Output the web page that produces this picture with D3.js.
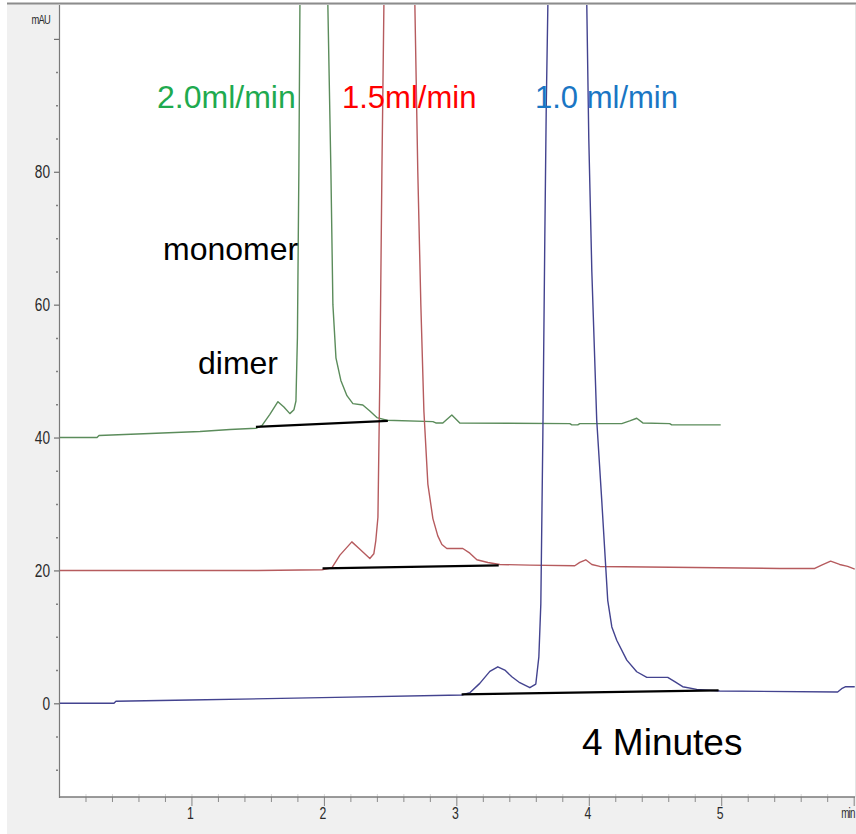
<!DOCTYPE html>
<html>
<head>
<meta charset="utf-8">
<script src="https://cdn.jsdelivr.net/npm/d3@7"></script>
<style>
  html, body { margin: 0; padding: 0; background: #ffffff; }
  svg { display: block; }
</style>
</head>
<body>
<svg id="chart" width="856" height="834"></svg>
<script>
// ---------------- DATA ----------------
// Time axis (min) and absorbance (mAU); peaks of the monomer run off the top of the scale.
const flow20Time = [0, 0.287, 0.302, 0.687, 1.064, 1.291, 1.487, 1.532, 1.592, 1.653, 1.698, 1.743, 1.774, 1.789, 1.800, 1.811, 1.819, 1.857, 1.925, 1.992, 2.030, 2.053, 2.068, 2.091, 2.128, 2.174, 2.219, 2.294, 2.347, 2.400, 2.475, 2.823, 2.845, 2.898, 2.966, 3.026, 3.857, 3.872, 3.917, 3.932, 4.249, 4.309, 4.362, 4.408, 4.611, 4.626, 4.996];
const flow20MAU  = [40.0, 40.0, 40.3, 40.6, 40.9, 41.2, 41.4, 41.8, 43.5, 45.4, 44.6, 43.6, 44.2, 45.5, 55, 80, 105, 150, 175, 150, 105, 80, 60, 52, 48.6, 46.3, 45.1, 44.9, 44.0, 43.0, 42.6, 42.4, 42.2, 42.2, 43.4, 42.2, 42.1, 41.9, 41.9, 42.1, 42.1, 42.5, 42.9, 42.2, 42.1, 41.9, 41.9];

const flow15Time = [0, 1.50, 1.985, 2.060, 2.121, 2.211, 2.272, 2.347, 2.377, 2.392, 2.408, 2.423, 2.438, 2.453, 2.498, 2.574, 2.642, 2.687, 2.709, 2.732, 2.755, 2.785, 2.823, 2.860, 2.891, 2.928, 3.049, 3.102, 3.155, 3.238, 3.328, 3.555, 3.894, 3.932, 3.977, 4.023, 4.083, 5.442, 5.706, 5.758, 5.826, 5.894, 5.955, 6.008];
const flow15MAU  = [20.0, 20.0, 20.1, 20.4, 22.3, 24.3, 23.2, 21.8, 22.5, 24.5, 28, 50, 80, 105, 150, 175, 150, 105, 80, 60, 44, 33, 27.8, 25.2, 23.9, 23.3, 23.3, 22.6, 21.6, 21.2, 20.9, 20.8, 20.7, 21.2, 21.6, 20.9, 20.6, 20.3, 20.3, 20.8, 21.4, 20.9, 20.6, 20.2];

const flow10Time = [0, 0.415, 0.430, 0.989, 1.985, 3.042, 3.102, 3.177, 3.253, 3.313, 3.366, 3.419, 3.479, 3.555, 3.600, 3.623, 3.638, 3.653, 3.668, 3.679, 3.691, 3.751, 3.834, 3.925, 3.985, 4.000, 4.023, 4.060, 4.098, 4.143, 4.174, 4.211, 4.287, 4.362, 4.438, 4.596, 4.649, 4.709, 4.815, 4.989, 5.879, 5.909, 5.940, 6.008];
const flow10MAU  = [0, 0, 0.3, 0.5, 0.85, 1.25, 1.6, 3.0, 4.8, 5.5, 5.0, 4.0, 3.1, 2.35, 2.9, 7, 15, 40, 70, 90, 105, 150, 180, 150, 105, 85, 65, 42.6, 30.5, 15.5, 11.5, 9.5, 6.5, 4.75, 3.9, 3.9, 3.25, 2.5, 2.1, 1.85, 1.7, 2.2, 2.5, 2.5];

// Hand-drawn integration baselines: [startTime, startMAU, endTime, endMAU]
const baseline20 = [1.487, 41.6, 2.483, 42.5];
const baseline15 = [1.99, 20.3, 3.32, 20.75];
const baseline10 = [3.04, 1.35, 4.98, 1.95];

const yMajorTicks = [0, 20, 40, 60, 80, 100];
const yTickLabels = ["0", "20", "40", "60", "80", "mAU"];
const xMajorTicks = [1, 2, 3, 4, 5];
const xTickLabels = ["1", "2", "3", "4", "5"];

const flowLabels = ["2.0ml/min", "1.5ml/min", "1.0 ml/min"];
const peakLabels = ["monomer", "dimer"];
const durationLabel = "4 Minutes";

// ---------------- LAYOUT ----------------
const svg = d3.select("#chart");
const W = 856, H = 834;
const plot = { left: 59, right: 855, top: 5, bottom: 797 };

const x = d3.scaleLinear().domain([0, 6.01]).range([plot.left, plot.right]);
const y = d3.scaleLinear().domain([-14.1, 105.1]).range([plot.bottom, plot.top]);

// background panel
svg.append("rect").attr("x", 0).attr("y", 0).attr("width", W).attr("height", H).attr("fill", "#ffffff");
svg.append("rect").attr("x", 7).attr("y", 4).attr("width", W - 7).attr("height", H - 4).attr("fill", "#f0f0f0");
svg.append("rect").attr("x", plot.left).attr("y", plot.top)
   .attr("width", plot.right - plot.left).attr("height", plot.bottom - plot.top).attr("fill", "#ffffff");
svg.append("line").attr("x1", 7).attr("x2", W).attr("y1", 3.5).attr("y2", 3.5)
   .attr("stroke", "#8c8c8c").attr("stroke-width", 2);
svg.append("line").attr("x1", 855.5).attr("x2", 855.5).attr("y1", 5).attr("y2", 797)
   .attr("stroke", "#e4e4e4").attr("stroke-width", 1);

const tickFont = "'Liberation Sans Narrow', 'Arial Narrow', 'Liberation Sans', sans-serif";

// ---------------- Y AXIS ----------------
const yMinor = d3.range(-10, 101, 5).filter(v => v % 20 !== 0);
const yAxisMajor = d3.axisLeft(y).tickValues(yMajorTicks).tickSize(5).tickFormat("");
const gy = svg.append("g").attr("transform", `translate(${plot.left},0)`).call(yAxisMajor);
gy.select(".domain").remove();
gy.selectAll(".tick line").attr("stroke", "#707070").attr("stroke-width", 1.2);
const yAxisMinor = d3.axisLeft(y).tickValues(yMinor).tickSize(2).tickFormat("");
const gy2 = svg.append("g").attr("transform", `translate(${plot.left - 1},0)`).call(yAxisMinor);
gy2.select(".domain").remove();
gy2.selectAll(".tick line").attr("stroke", "#808080").attr("stroke-width", 1.5);

svg.append("g").selectAll("text").data(yMajorTicks).join("text")
  .attr("transform", (d, i) => `translate(50,${i === 5 ? 24 : y(d) + 6.5}) scale(0.72,1)`)
  .attr("text-anchor", "end")
  .attr("font-family", tickFont)
  .attr("font-size", (d, i) => i === 5 ? 13 : 19)
  .attr("fill", "#2a2a2a")
  .attr("letter-spacing", (d, i) => i === 5 ? -1 : 0)
  .text((d, i) => yTickLabels[i]);

svg.append("line").attr("x1", plot.left + 0.5).attr("x2", plot.left + 0.5)
   .attr("y1", plot.top).attr("y2", plot.bottom + 1)
   .attr("stroke", "#7a7a7a").attr("stroke-width", 1.2);

// ---------------- X AXIS ----------------
const xMinor = d3.range(0.2, 6.01, 0.2).map(v => +v.toFixed(1)).filter(v => Math.abs(v - Math.round(v)) > 0.01);
const xAxisMajor = d3.axisBottom(x).tickValues(xMajorTicks.concat([6])).tickSize(9).tickFormat("");
const gx = svg.append("g").attr("transform", `translate(0,${plot.bottom})`).call(xAxisMajor);
gx.select(".domain").remove();
gx.selectAll(".tick line").attr("stroke", "#808080").attr("stroke-width", 1);
const xAxisMinor = d3.axisBottom(x).tickValues(xMinor).tickSize(5).tickFormat("");
const gx2 = svg.append("g").attr("transform", `translate(0,${plot.bottom})`).call(xAxisMinor);
gx2.select(".domain").remove();
gx2.selectAll(".tick line").attr("stroke", "#8a8a8a").attr("stroke-width", 1);
// faint inner ticks
const gx3 = svg.append("g").attr("transform", `translate(0,${plot.bottom})`)
  .call(d3.axisTop(x).tickValues(xMinor.concat(xMajorTicks)).tickSize(3).tickFormat(""));
gx3.select(".domain").remove();
gx3.selectAll(".tick line").attr("stroke", "#d8d8d8").attr("stroke-width", 1);

svg.append("line").attr("x1", plot.left).attr("x2", plot.right)
   .attr("y1", plot.bottom).attr("y2", plot.bottom)
   .attr("stroke", "#7a7a7a").attr("stroke-width", 1.6);

svg.append("g").selectAll("text").data(xMajorTicks).join("text")
  .attr("transform", d => `translate(${x(d) - 1},819) scale(0.72,1)`)
  .attr("text-anchor", "middle")
  .attr("font-family", tickFont)
  .attr("font-size", 17)
  .attr("fill", "#2a2a2a")
  .text((d, i) => xTickLabels[i]);
svg.append("text")
  .attr("transform", `translate(848,818) scale(0.7,1)`)
  .attr("text-anchor", "middle")
  .attr("font-family", tickFont).attr("font-size", 14).attr("fill", "#2a2a2a")
  .attr("letter-spacing", -1)
  .text("min");

// ---------------- TRACES ----------------
svg.append("clipPath").attr("id", "plotClip").append("rect")
  .attr("x", plot.left + 1).attr("y", plot.top).attr("width", plot.right - plot.left - 1).attr("height", plot.bottom - plot.top - 1);

const line = d3.line().x(d => x(d[0])).y(d => y(d[1]));
const series = [
  { t: flow20Time, v: flow20MAU, color: "#5b8c5b" },
  { t: flow15Time, v: flow15MAU, color: "#b65b5e" },
  { t: flow10Time, v: flow10MAU, color: "#43438f" }
];
const gTraces = svg.append("g").attr("clip-path", "url(#plotClip)");
series.forEach(s => {
  const pts = s.t.map((t, i) => [t, s.v[i]]);
  gTraces.append("path").datum(pts)
    .attr("d", line)
    .attr("fill", "none")
    .attr("stroke", s.color)
    .attr("stroke-width", 1.4)
    .attr("stroke-linejoin", "round");
});

// integration baselines
[baseline20, baseline15, baseline10].forEach(b => {
  svg.append("line")
    .attr("x1", x(b[0])).attr("y1", y(b[1]))
    .attr("x2", x(b[2])).attr("y2", y(b[3]))
    .attr("stroke", "#000000").attr("stroke-width", 2.2);
});

// ---------------- ANNOTATIONS ----------------
const annFont = "'Liberation Sans', Arial, sans-serif";
const flowPos = [[157, 108], [342, 108], [535, 108]];
const flowColors = ["#1faa4f", "#ff0000", "#1a76c4"];
const flowSizes = [32, 31, 31];
svg.append("g").selectAll("text").data(flowLabels).join("text")
  .attr("x", (d, i) => flowPos[i][0]).attr("y", (d, i) => flowPos[i][1])
  .attr("font-family", annFont).attr("font-size", (d, i) => flowSizes[i])
  .attr("fill", (d, i) => flowColors[i])
  .text(d => d);

const peakPos = [[163, 260], [198, 374]];
svg.append("g").selectAll("text").data(peakLabels).join("text")
  .attr("x", (d, i) => peakPos[i][0]).attr("y", (d, i) => peakPos[i][1])
  .attr("font-family", annFont).attr("font-size", 32)
  .attr("fill", "#000000")
  .text(d => d);

svg.append("text").attr("x", 582).attr("y", 755)
  .attr("font-family", annFont).attr("font-size", 37).attr("fill", "#000000")
  .text(durationLabel);
</script>
</body>
</html>
